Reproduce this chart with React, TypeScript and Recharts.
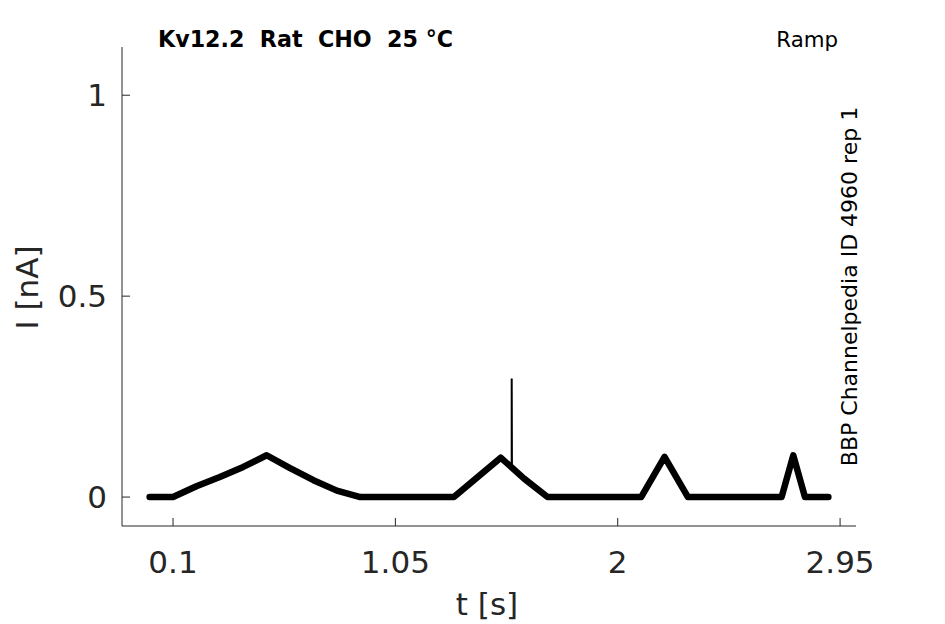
import React from 'react';
import { LineChart, Line, XAxis, YAxis } from 'recharts';

// Current trace (time in s, current in nA)
const traceTime = [0.0, 0.1, 0.2, 0.3, 0.4, 0.5, 0.6, 0.7, 0.8, 0.9, 1.3, 1.5, 1.6, 1.7, 2.1, 2.2, 2.3, 2.7, 2.75, 2.8, 2.9];
const traceCurrent = [0.0, 0.0, 0.027, 0.05, 0.075, 0.104, 0.072, 0.042, 0.016, 0.0, 0.0, 0.098, 0.046, 0.0, 0.0, 0.1, 0.0, 0.0, 0.104, 0.0, 0.0];

// Narrow artefact spike on the second ramp
const spikeTime = [1.547, 1.547, 1.548];
const spikeCurrent = [0.075, 0.295, 0.072];

const xTicks = [0.1, 1.05, 2, 2.95];
const xTickLabels = ['0.1', '1.05', '2', '2.95'];
const yTicks = [0, 0.5, 1];
const yTickLabels = ['0', '0.5', '1'];

const traceData = traceTime.map((t, i) => ({ t, i: traceCurrent[i] }));
const spikeData = spikeTime.map((t, i) => ({ t, i: spikeCurrent[i] }));

const FONT = '"DejaVu Sans", sans-serif';
const INK = '#262626';
const TICK_LEN = 8;

function XTick({ x, y, payload }: any) {
  const idx = xTicks.indexOf(payload.value);
  const axisY = y - 8 - 15;
  return (
    <g>
      <line x1={x} x2={x} y1={axisY} y2={axisY - TICK_LEN} stroke={INK} strokeWidth={1} />
      <text x={x} y={y} dy={24} textAnchor="middle" fontFamily={FONT} fontSize={31} fill={INK}>
        {idx >= 0 ? xTickLabels[idx] : payload.value}
      </text>
    </g>
  );
}

function YTick({ x, y, payload }: any) {
  const idx = yTicks.indexOf(payload.value);
  const axisX = x + 8 + 7;
  return (
    <g>
      <line x1={axisX} x2={axisX + TICK_LEN} y1={y} y2={y} stroke={INK} strokeWidth={1} />
      <text x={x} y={y} dy={11} textAnchor="end" fontFamily={FONT} fontSize={31} fill={INK}>
        {idx >= 0 ? yTickLabels[idx] : payload.value}
      </text>
    </g>
  );
}

export default function App() {
  return (
    <div style={{ position: 'absolute', left: 0, top: 0, width: 945, height: 624, background: '#fff' }}>
      <LineChart width={945} height={624} margin={{ top: 47, right: 89, left: 62, bottom: 48 }}>
        <XAxis
          type="number"
          dataKey="t"
          domain={[-0.118, 3.018]}
          ticks={xTicks}
          tick={<XTick />}
          tickLine={false}
          tickSize={8}
          tickMargin={15}
          height={50}
          axisLine={{ stroke: INK, strokeWidth: 1 }}
          allowDataOverflow
        />
        <YAxis
          type="number"
          dataKey="i"
          domain={[-0.072, 1.12]}
          ticks={yTicks}
          tick={<YTick />}
          tickLine={false}
          tickSize={8}
          tickMargin={7}
          width={60}
          axisLine={{ stroke: INK, strokeWidth: 1 }}
          allowDataOverflow
        />
        <Line
          data={traceData}
          dataKey="i"
          type="linear"
          stroke="#000"
          strokeWidth={6.5}
          strokeLinejoin="round"
          strokeLinecap="round"
          dot={false}
          isAnimationActive={false}
        />
        <Line
          data={spikeData}
          dataKey="i"
          type="linear"
          stroke="#000"
          strokeWidth={2}
          dot={false}
          isAnimationActive={false}
        />
      </LineChart>
      <svg width={945} height={624} style={{ position: 'absolute', left: 0, top: 0, pointerEvents: 'none' }}>
        <text x={158} y={46.5} fontFamily={FONT} fontWeight="bold" fontSize={22.2} fill="#000" style={{ whiteSpace: 'pre' }}>
          {'Kv12.2  Rat  CHO  25 °C'}
        </text>
        <text x={838} y={46.5} textAnchor="end" fontFamily={FONT} fontSize={21.3} fill="#000">
          Ramp
        </text>
        <text
          x={857}
          y={286.5}
          textAnchor="middle"
          fontFamily={FONT}
          fontSize={22}
          fill="#000"
          transform="rotate(-90 857 286.5)"
        >
          BBP Channelpedia ID 4960 rep 1
        </text>
        <text x={487} y={615} textAnchor="middle" fontFamily={FONT} fontSize={31} fill={INK}>
          t [s]
        </text>
        <text
          x={38}
          y={287.5}
          textAnchor="middle"
          fontFamily={FONT}
          fontSize={31}
          fill={INK}
          transform="rotate(-90 38 287.5)"
        >
          I [nA]
        </text>
      </svg>
    </div>
  );
}
